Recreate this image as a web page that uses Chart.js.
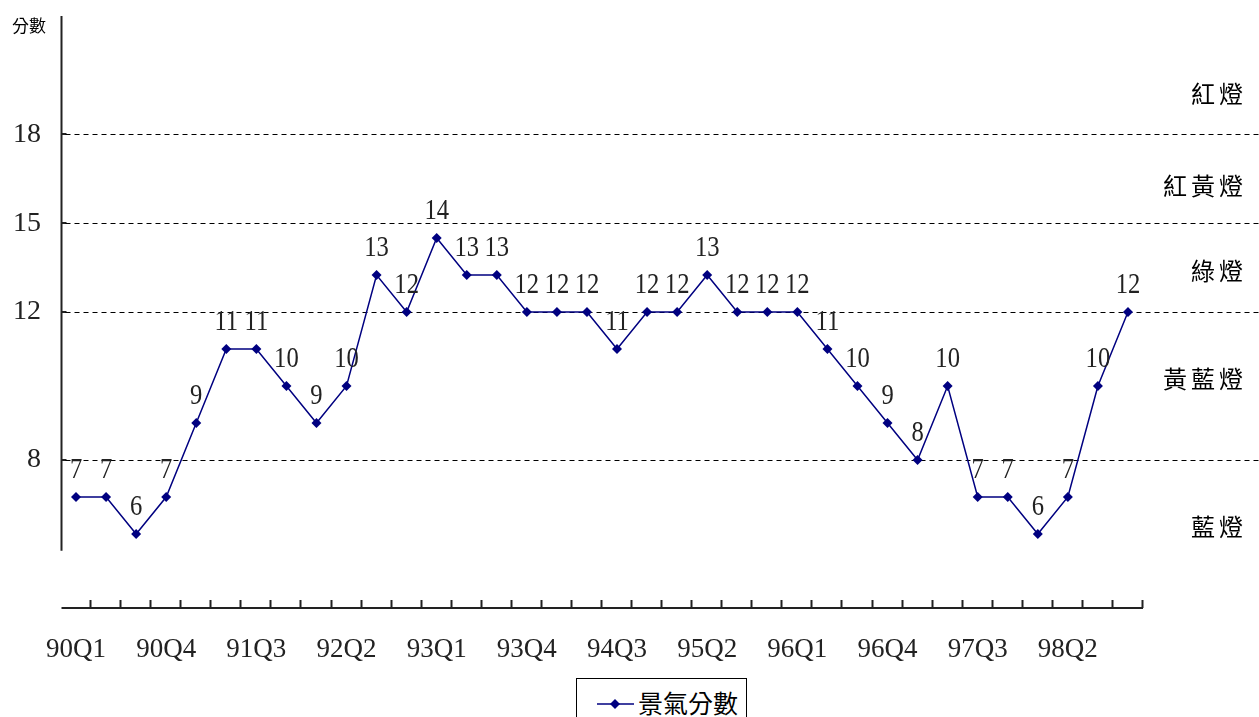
<!DOCTYPE html>
<html>
<head>
<meta charset="utf-8">
<script src="https://cdn.jsdelivr.net/npm/chart.js@4"></script>
<style>
body { margin: 0; background: #fff; overflow: hidden; }
#contenedor { position: relative; width: 1259px; height: 717px; }
#leyenda {
    position: absolute; left: 576px; top: 678px; width: 171px; height: 60px;
    border: 1px solid #000; background: #fff; box-sizing: border-box;
    font: 25px "Noto Sans CJK TC"; color: #000;
}
#leyenda svg { position: absolute; left: 20px; top: 14px; }
#leyenda span { position: absolute; left: 61px; top: 6px; line-height: 34px; }
</style>
</head>
<body>
<div id="contenedor">
    <canvas id="grafico" width="1259" height="717"></canvas>
    <div id="leyenda">
        <svg width="38" height="22"><line x1="0" y1="11" x2="37" y2="11" stroke="#000080" stroke-width="1.5"/><path d="M18 6 L23 11 L18 16 L13 11 Z" fill="#000080"/></svg>
        <span>景氣分數</span>
    </div>
</div>
<script>
// DATOS DEL GRAFICO
const trimestres = ["90Q1", "90Q2", "90Q3", "90Q4", "91Q1", "91Q2", "91Q3", "91Q4",
    "92Q1", "92Q2", "92Q3", "92Q4", "93Q1", "93Q2", "93Q3", "93Q4",
    "94Q1", "94Q2", "94Q3", "94Q4", "95Q1", "95Q2", "95Q3", "95Q4",
    "96Q1", "96Q2", "96Q3", "96Q4", "97Q1", "97Q2", "97Q3", "97Q4",
    "98Q1", "98Q2", "98Q3", "98Q4"]
const puntajes = [7, 7, 6, 7, 9, 11, 11, 10, 9, 10, 13, 12, 14, 13, 13, 12, 12, 12,
    11, 12, 12, 13, 12, 12, 12, 11, 10, 9, 8, 10, 7, 7, 6, 7, 10, 12]
const umbrales = [8, 12, 14.4, 16.8] //LINEAS PUNTEADAS ENTRE LUCES
const umbralEtiquetas = ["8", "12", "15", "18"] //TEXTO QUE MUESTRA EL EJE Y
const zonas = ["紅燈", "紅黃燈", "綠燈", "黃藍燈", "藍燈"]
const zonaValores = [17.9, 15.4, 13.1, 10.2, 6.2]

const grafico = document.querySelector("#grafico")

const ejes = {
    id: "ejes",
    beforeDatasetsDraw(chart) {
        const { ctx, chartArea, scales: { x, y } } = chart
        const izq = Math.round(chartArea.left) + 0.5
        const abajo = Math.round(chartArea.bottom)
        ctx.save()
        ctx.strokeStyle = "#222"
        ctx.lineWidth = 2
        ctx.beginPath()
        ctx.moveTo(izq, chartArea.top)
        ctx.lineTo(izq, y.getPixelForValue(5.55))
        y.ticks.forEach((t) => {
            const py = Math.round(y.getPixelForValue(t.value))
            if (t.value > 5.5) {
                ctx.moveTo(izq, py)
                ctx.lineTo(izq + 5, py)
            } else if (t.value > y.min) {
                ctx.moveTo(izq - 2, py)
                ctx.lineTo(izq + 2, py)
            }
        })
        ctx.moveTo(izq, abajo)
        ctx.lineTo(chartArea.right, abajo)
        const medio = (x.getPixelForValue(1) - x.getPixelForValue(0)) / 2
        trimestres.forEach((_, i) => {
            const px = Math.round(x.getPixelForValue(i) + medio) - 0.5
            ctx.moveTo(px, abajo)
            ctx.lineTo(px, abajo - 8)
        })
        ctx.stroke()

        // LINEAS PUNTEADAS DE CADA LUZ
        ctx.strokeStyle = "#000"
        ctx.lineWidth = 1
        ctx.setLineDash([5, 4])
        umbrales.forEach((valor) => {
            const py = Math.round(y.getPixelForValue(valor)) + 0.5
            ctx.beginPath()
            ctx.moveTo(izq + 4, py)
            ctx.lineTo(chart.width, py)
            ctx.stroke()
        })
        ctx.setLineDash([])

        ctx.fillStyle = "#000"
        ctx.font = '24px "Noto Sans CJK TC"'
        ctx.textAlign = "right"
        ctx.textBaseline = "middle"
        ctx.letterSpacing = "4px"
        zonas.forEach((nombre, i) => {
            ctx.fillText(nombre, chart.width - 12, y.getPixelForValue(zonaValores[i]))
        })
        ctx.letterSpacing = "0px"
        ctx.font = '17px "Noto Sans CJK TC"'
        ctx.textAlign = "center"
        ctx.fillText("分數", chartArea.left - 32, chartArea.top + 10)
        ctx.restore()
    }
}

const etiquetasDatos = {
    id: "etiquetasDatos",
    afterDatasetsDraw(chart) {
        const { ctx } = chart
        const puntos = chart.getDatasetMeta(0).data
        ctx.save()
        ctx.font = '30px "Liberation Serif"'
        ctx.fillStyle = "#222"
        ctx.textAlign = "center"
        ctx.textBaseline = "alphabetic"
        puntos.forEach((p, i) => {
            ctx.save()
            ctx.translate(p.x, p.y - 19)
            ctx.scale(0.82, 1) //NUMEROS MAS ANGOSTOS COMO EN EL ORIGINAL
            ctx.fillText(String(puntajes[i]), 0, 0)
            ctx.restore()
        })
        ctx.restore()
    }
}

new Chart(grafico, {
    type: "line",
    data: {
        labels: trimestres,
        datasets: [{
            label: "景氣分數",
            data: puntajes,
            borderColor: "#000080",
            backgroundColor: "#000080",
            borderWidth: 1.5,
            pointStyle: "rectRot",
            pointRadius: 5,
            pointBorderWidth: 0,
            tension: 0
        }]
    },
    options: {
        responsive: false,
        animation: false,
        layout: { padding: { top: 16, right: 116, left: 0, bottom: 0 } },
        plugins: { legend: { display: false }, tooltip: { enabled: false } },
        scales: {
            x: {
                offset: true,
                grid: { display: false },
                border: { display: false },
                ticks: {
                    autoSkip: false,
                    maxRotation: 0,
                    padding: 18,
                    color: "#222",
                    font: { family: "Liberation Serif", size: 27 },
                    callback: (v, i) => i % 3 === 0 ? trimestres[i] : null
                },
                afterFit: (escala) => { escala.height = 109 }
            },
            y: {
                min: 4,
                max: 20,
                grid: { display: false, drawTicks: false },
                border: { display: false },
                ticks: {
                    stepSize: 0.8,
                    padding: 20,
                    color: "#222",
                    font: { family: "Liberation Serif", size: 28 },
                    callback: (v) => {
                        const idx = umbrales.findIndex((u) => Math.abs(u - v) < 0.01)
                        return idx >= 0 ? umbralEtiquetas[idx] : null
                    }
                },
                afterFit: (escala) => {
                    escala.width = 61
                    escala.paddingTop = 0 //SIN ESPACIO EXTRA ARRIBA
                    escala.paddingBottom = 0
                }
            }
        }
    },
    plugins: [ejes, etiquetasDatos]
})
</script>
</body>
</html>
